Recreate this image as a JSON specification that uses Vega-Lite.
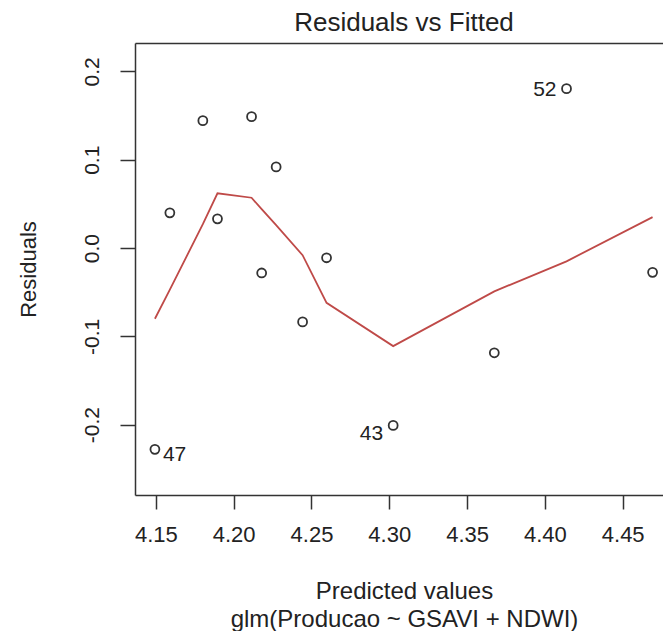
{
  "$schema": "https://vega.github.io/schema/vega-lite/v6.json",
  "width": 528,
  "height": 452,
  "autosize": {"type": "none"},
  "padding": {"left": 135, "top": 43, "right": 0, "bottom": 136},
  "background": "white",
  "config": {
    "view": {"stroke": null},
    "font": "Liberation Sans",
    "axis": {"grid": false}
  },
  "title": {
    "text": "Residuals vs Fitted",
    "fontSize": 26,
    "fontWeight": "normal",
    "color": "#222",
    "anchor": "middle",
    "offset": 7,
    "dx": 5
  },
  "datasets": {
    "pts": [
      {"fitted": 4.1494, "resid": -0.2279, "id": "47"},
      {"fitted": 4.159, "resid": 0.0399, "id": ""},
      {"fitted": 4.1802, "resid": 0.1443, "id": ""},
      {"fitted": 4.1896, "resid": 0.0331, "id": ""},
      {"fitted": 4.2115, "resid": 0.1488, "id": ""},
      {"fitted": 4.218, "resid": -0.0282, "id": ""},
      {"fitted": 4.2273, "resid": 0.0919, "id": ""},
      {"fitted": 4.2443, "resid": -0.0836, "id": ""},
      {"fitted": 4.2597, "resid": -0.011, "id": ""},
      {"fitted": 4.3025, "resid": -0.2008, "id": "43"},
      {"fitted": 4.3675, "resid": -0.1186, "id": ""},
      {"fitted": 4.4139, "resid": 0.1805, "id": "52"},
      {"fitted": 4.4692, "resid": -0.0275, "id": ""}
    ],
    "lo": [
      {"fitted": 4.1494, "smooth": -0.080},
      {"fitted": 4.159, "smooth": -0.047},
      {"fitted": 4.1802, "smooth": 0.027},
      {"fitted": 4.1896, "smooth": 0.062},
      {"fitted": 4.2115, "smooth": 0.057},
      {"fitted": 4.218, "smooth": 0.044},
      {"fitted": 4.2273, "smooth": 0.026},
      {"fitted": 4.2443, "smooth": -0.008},
      {"fitted": 4.2597, "smooth": -0.062},
      {"fitted": 4.3025, "smooth": -0.111},
      {"fitted": 4.3675, "smooth": -0.049},
      {"fitted": 4.4139, "smooth": -0.015},
      {"fitted": 4.4692, "smooth": 0.035}
    ]
  },
  "layer": [
    {
      "data": {"name": "pts"},
      "mark": {"type": "point", "shape": "circle", "filled": false, "size": 80, "stroke": "#333", "strokeWidth": 1.8, "opacity": 1},
      "encoding": {
        "x": {
          "field": "fitted", "type": "quantitative",
          "scale": {"domain": [4.1366, 4.4759], "nice": false, "zero": false},
          "axis": {
            "orient": "bottom",
            "values": [4.15, 4.2, 4.25, 4.3, 4.35, 4.4, 4.45],
            "format": ".2f",
            "tickSize": 14, "tickColor": "#333", "tickWidth": 1.5,
            "domainColor": "#333", "domainWidth": 1.5,
            "labelFontSize": 22, "labelColor": "#222", "labelPadding": 15, "labelBaseline": "top",
            "labelFlush": false, "labelOverlap": false,
            "title": ["Predicted values", "glm(Producao ~ GSAVI + NDWI)"],
            "titleFontSize": 24, "titleFontWeight": "normal", "titleColor": "#222",
            "titleX": 269, "titleY": 103, "titleAlign": "center", "titleBaseline": "alphabetic", "titleLineHeight": 28
          }
        },
        "y": {
          "field": "resid", "type": "quantitative",
          "scale": {"domain": [-0.2796, 0.2322], "nice": false, "zero": false},
          "axis": {
            "values": [-0.2, -0.1, 0, 0.1, 0.2],
            "format": ".1f",
            "labelExpr": "replace(datum.label, '\u2212', '-')",
            "tickSize": 15, "tickColor": "#333", "tickWidth": 1.5,
            "domainColor": "#333", "domainWidth": 1.5,
            "labelFontSize": 21, "labelColor": "#222", "labelAngle": -90, "labelAlign": "center", "labelBaseline": "alphabetic", "labelPadding": 22,
            "labelFlush": false, "labelOverlap": false,
            "title": "Residuals",
            "titleFontSize": 22, "titleFontWeight": "normal", "titleColor": "#222",
            "titleAngle": -90, "titleX": -100, "titleY": 226, "titleAlign": "center", "titleBaseline": "alphabetic"
          }
        }
      }
    },
    {
      "mark": {"type": "rule", "stroke": "#aaaaaa", "strokeDash": [2, 4], "strokeWidth": 1.3},
      "encoding": {"y": {"datum": 0}}
    },
    {
      "data": {"name": "lo"},
      "mark": {"type": "line", "color": "#bf4a48", "strokeWidth": 1.8},
      "encoding": {
        "x": {
          "field": "fitted", "type": "quantitative",
          "axis": {"orient": "top", "labels": false, "ticks": false, "domain": true, "domainColor": "#333", "domainWidth": 1.5, "title": null, "grid": false}
        },
        "y": {"field": "smooth", "type": "quantitative"}
      }
    },
    {
      "data": {"name": "pts"},
      "transform": [{"filter": "datum.id === '47'"}],
      "mark": {"type": "text", "align": "left", "baseline": "middle", "dx": 8, "dy": 6, "fontSize": 21, "color": "#222"},
      "encoding": {
        "x": {"field": "fitted", "type": "quantitative", "axis": null},
        "y": {"field": "resid", "type": "quantitative"},
        "text": {"field": "id"}
      }
    },
    {
      "data": {"name": "pts"},
      "transform": [{"filter": "datum.id === '43'"}],
      "mark": {"type": "text", "align": "right", "baseline": "middle", "dx": -10, "dy": 9, "fontSize": 21, "color": "#222"},
      "encoding": {
        "x": {"field": "fitted", "type": "quantitative", "axis": null},
        "y": {"field": "resid", "type": "quantitative"},
        "text": {"field": "id"}
      }
    },
    {
      "data": {"name": "pts"},
      "transform": [{"filter": "datum.id === '52'"}],
      "mark": {"type": "text", "align": "right", "baseline": "middle", "dx": -10, "dy": 1, "fontSize": 21, "color": "#222"},
      "encoding": {
        "x": {"field": "fitted", "type": "quantitative", "axis": null},
        "y": {"field": "resid", "type": "quantitative"},
        "text": {"field": "id"}
      }
    }
  ],
  "resolve": {"axis": {"x": "independent"}}
}
